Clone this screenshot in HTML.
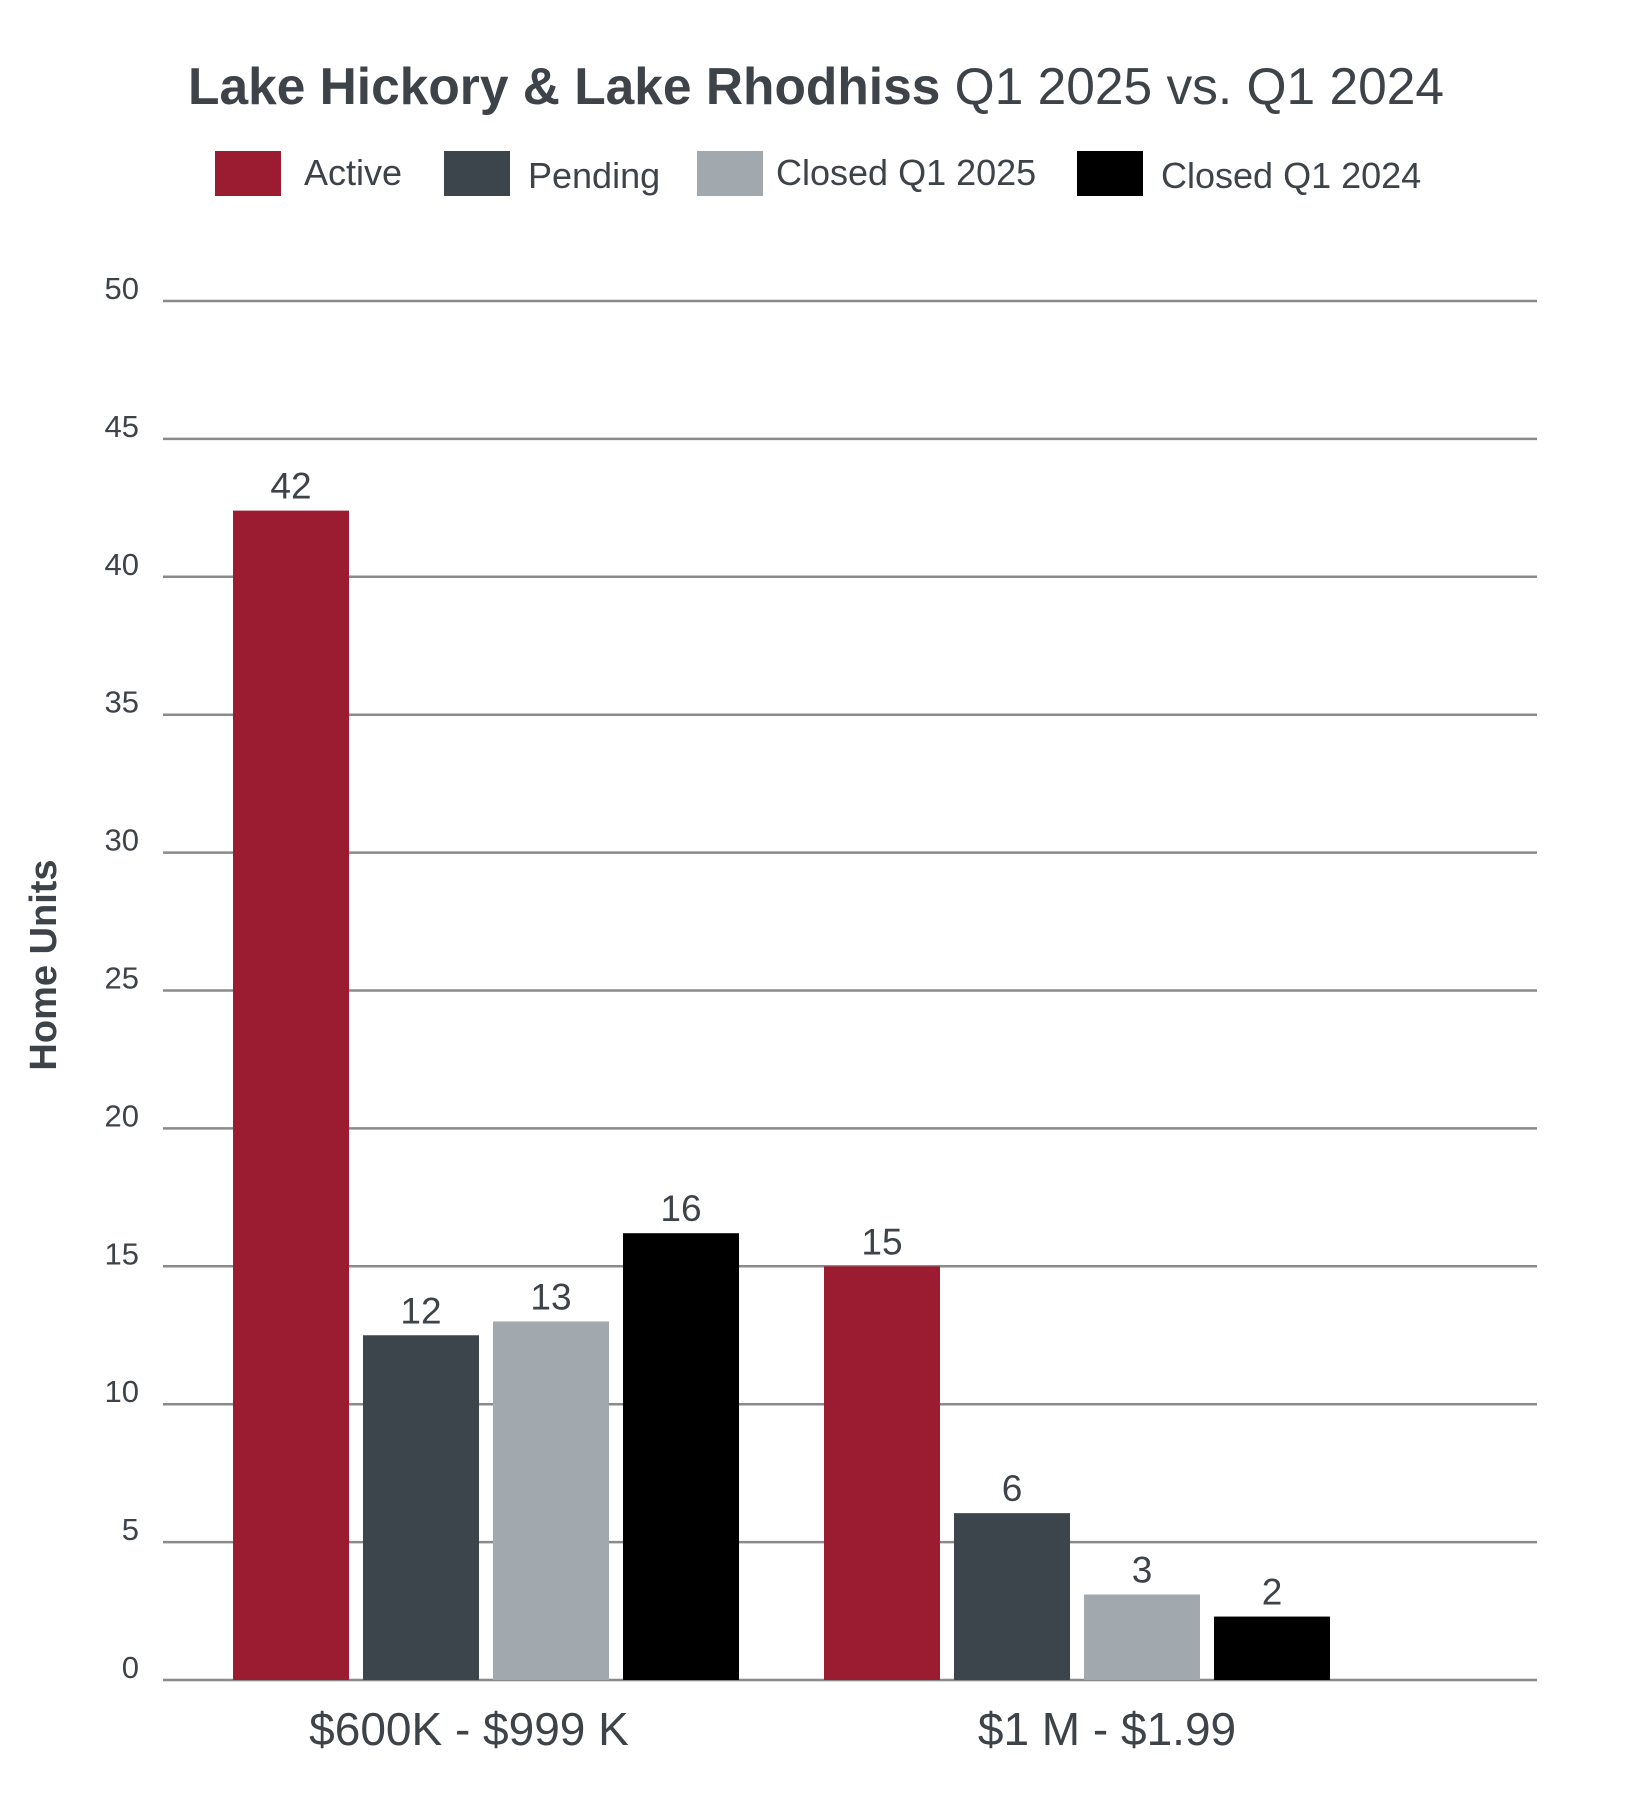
<!DOCTYPE html>
<html><head><meta charset="utf-8"><style>
html,body{margin:0;padding:0;background:#fff}
svg{display:block;font-family:"Liberation Sans",sans-serif}
</style></head><body>
<svg id="chart" width="1627" height="1798" viewBox="0 0 1627 1798" xmlns="http://www.w3.org/2000/svg">
<text x="188" y="104" font-size="52" fill="#3d4349" textLength="1256" lengthAdjust="spacingAndGlyphs"><tspan font-weight="bold">Lake Hickory &amp; Lake Rhodhiss</tspan> Q1 2025 vs. Q1 2024</text>
<g id="legend"></g>
<g id="grid"></g>
<g id="bars"></g>
<text transform="translate(56,965) rotate(-90)" text-anchor="middle" font-size="38" font-weight="bold" fill="#3d4349">Home Units</text>
</svg>
<script>
const categories = ["$600K - $999 K", "$1 M - $1.99"];
const seriesNames = ["Active", "Pending", "Closed Q1 2025", "Closed Q1 2024"];
const active = [42.4, 15];
const pending = [12.5, 6.05];
const closed2025 = [13, 3.1];
const closed2024 = [16.2, 2.3];
const yTicks = [0, 5, 10, 15, 20, 25, 30, 35, 40, 45, 50];

const NS = "http://www.w3.org/2000/svg";
const colors = ["#9b1c31", "#3d454c", "#a2a9ae", "#000000"];
const series = [active, pending, closed2025, closed2024];
const y0 = 1680, y50 = 301, plotL = 163, plotR = 1537;
const yScale = v => y0 - (v / 50) * (y0 - y50);
const groupStart = [233, 824], barStep = 130, barW = 116;
const labelOffset = [-17, 30];
const xBar = (g, s) => groupStart[g] + s * barStep;
function mk(tag, attrs, parent) { const e = document.createElementNS(NS, tag); for (const k in attrs) e.setAttribute(k, attrs[k]); parent.appendChild(e); return e; }

const grid = document.getElementById('grid');
yTicks.forEach(t => {
  const y = yScale(t);
  const l = mk('line', {x1: plotL, x2: plotR, y1: y, y2: y, stroke: '#8a8a8a', 'stroke-width': 2.5}, grid);
  
  
  const tx = mk('text', {x: 139, y: y - 2, 'text-anchor': 'end', 'font-size': 31, fill: '#3d4349'}, grid);
  tx.textContent = t;
  
  
});

const bars = document.getElementById('bars');
categories.forEach((c, g) => {
  series.forEach((arr, s) => {
    const v = arr[g], x = xBar(g, s), y = yScale(v);
    const r = mk('rect', {x: x, y: y, width: barW, height: y0 - y, fill: colors[s]}, bars);
    
    
    const lb = mk('text', {x: x + barW / 2, y: y - 12, 'text-anchor': 'middle', 'font-size': 37, fill: '#3d4349'}, bars);
    lb.textContent = Math.floor(v);
    
    
  });
  const cx = xBar(g, 0) + (3 * barStep + barW) / 2 + labelOffset[g];
  const cl = mk('text', {x: cx, y: 1745, 'text-anchor': 'middle', 'font-size': 46, fill: '#3d4349'}, bars);
  cl.textContent = c;
  
  
});

const legend = document.getElementById('legend');
const swX = [215, 444, 697, 1077], txX = [304, 528, 776, 1161], txY = [185, 188, 185, 188];
seriesNames.forEach((n, i) => {
  const sw = mk('rect', {x: swX[i], y: 151, width: 66, height: 45, fill: colors[i]}, legend);
  
  
  const t = mk('text', {x: txX[i], y: txY[i], 'font-size': 36, fill: '#3d4349'}, legend);
  t.textContent = n;
  
  
});
</script>
</body></html>
